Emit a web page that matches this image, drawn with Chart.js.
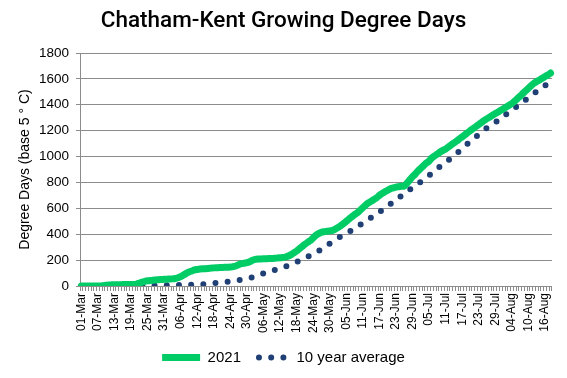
<!DOCTYPE html>
<html><head><meta charset="utf-8">
<script src="https://cdn.jsdelivr.net/npm/chart.js@4/dist/chart.umd.min.js"></script>
<style>html,body{margin:0;padding:0;background:#fff}#wrap{width:567px;height:378px}</style>
</head><body><div id="wrap"><canvas id="c" width="567" height="378"></canvas></div>
<script>
// Series values (cumulative GDD, daily from 01-Mar)
const gdd2021 = [
  0,0,0,0,0,0,0,0,3,6,8,9,10,10,10,11,11,12,12,12,
  15,22,30,36,40,42,45,47,49,50,52,53,54,55,58,64,72,85,98,108,
  116,124,128,131,133,134,136,138,140,141,142,143,144,145,147,150,155,165,172,176,
  180,188,198,205,208,209,210,211,212,213,214,216,218,220,224,232,242,256,270,288,
  305,322,338,352,372,392,405,415,420,423,426,430,440,452,466,482,500,518,535,552,
  566,585,605,625,643,655,668,682,700,715,728,740,752,758,764,767,770,773,795,820,
  845,865,890,910,930,950,965,990,1005,1020,1035,1048,1059,1075,1090,1105,1120,1137,1152,1168,
  1185,1202,1217,1232,1248,1264,1280,1293,1306,1319,1332,1345,1357,1370,1384,1397,1410,1428,1448,1467,
  1488,1508,1528,1548,1566,1580,1592,1605,1618,1630,1645
];
const gddAvg = [
  0,0,0,0,0,0,0,0,0,0,1,1,1,1,1,1,2,2,2,2,
  2,2,3,3,3,3,4,4,4,5,5,5,6,6,7,7,8,8,9,9,
  10,10,11,12,14,16,18,20,22,24,26,28,30,32,35,38,41,45,49,53,
  57,61,67,74,82,90,97,104,111,117,124,130,137,143,151,159,167,176,185,195,
  205,215,226,237,248,259,272,285,300,314,328,342,358,370,382,394,405,418,431,444,
  456,472,488,504,516,528,540,553,570,587,604,619,634,648,662,680,698,715,730,745,
  760,773,790,806,822,838,854,870,886,905,924,943,958,973,988,1004,1024,1044,1064,1082,
  1100,1117,1135,1153,1171,1188,1206,1222,1238,1250,1264,1278,1292,1310,1328,1345,1360,1375,1390,1405,
  1422,1439,1455,1471,1487,1503,1518,1533,1548,1563,1576
];
// Categories: daily dates starting 01-Mar (2021)
const monthNames = ['Jan','Feb','Mar','Apr','May','Jun','Jul','Aug','Sep','Oct','Nov','Dec'];
const startDate = [2021, 2, 1];
const categories = gdd2021.map((_, i) => {
  const d = new Date(startDate[0], startDate[1], startDate[2] + i);
  return String(d.getDate()).padStart(2,'0') + '-' + monthNames[d.getMonth()];
});
const yTicks = [0,200,400,600,800,1000,1200,1400,1600,1800];
const labelEvery = 6;

const grid = '#8c8c8c';
new Chart(document.getElementById('c'), {
  type: 'line',
  data: {
    labels: categories,
    datasets: [
      { label: '2021', data: gdd2021, borderColor: '#00cc66', backgroundColor: '#00cc66',
        borderWidth: 7, pointRadius: 0, tension: 0.4, cubicInterpolationMode: 'monotone',
        borderCapStyle: 'round' },
      { label: '10 year average', data: gddAvg, borderColor: '#1f3f75', backgroundColor: '#1f3f75',
        borderWidth: 6, pointRadius: 0, tension: 0.4, cubicInterpolationMode: 'monotone',
        borderDash: [0, 12.2], borderCapStyle: 'round' }
    ]
  },
  options: {
    responsive: false, animation: false, devicePixelRatio: 1,
    layout: { padding: { left: 14, right: 14, top: 6, bottom: 3 } },
    plugins: {
      title: { display: true, text: 'Chatham-Kent Growing Degree Days', color: '#000',
        font: { family: 'Roboto', size: 22.5, weight: '500' }, padding: { top: 2, bottom: 18 } },
      legend: { position: 'bottom', labels: { usePointStyle: true, pointStyleWidth: 38,
        color: '#000', font: { family: 'Liberation Sans', size: 15 }, padding: 10,
        generateLabels: chart => {
          const items = Chart.defaults.plugins.legend.labels.generateLabels(chart);
          return items.map((it, i) => {
            const ds = chart.data.datasets[i];
            it.pointStyle = 'line';
            it.lineWidth = ds.borderWidth;
            it.lineCap = ds.borderDash ? 'round' : 'butt';
            it.lineDash = ds.borderDash || [];
            it.lineDashOffset = ds.borderDash ? -8 : 0;
            return it;
          });
        } } },
      tooltip: { enabled: false }
    },
    scales: {
      x: {
        offset: true,
        grid: { display: true, drawOnChartArea: false, offset: true, tickLength: 5, color: grid },
        border: { color: grid },
        afterFit: s => { s.height = 54; },
        ticks: { autoSkip: false, maxRotation: 90, minRotation: 90, padding: 2, color: '#000',
          font: { family: 'Liberation Sans', size: 12 },
          callback: (v, i) => (i % labelEvery === 0 ? categories[i] : '') }
      },
      y: {
        min: 0, max: 1800,
        afterBuildTicks: s => { s.ticks = yTicks.map(v => ({ value: v })); },
        afterFit: s => { s.width = 66; },
        grid: { color: grid, tickLength: 4 },
        border: { color: grid },
        title: { display: true, text: 'Degree Days (base 5 ° C)', color: '#000',
          font: { family: 'Liberation Sans', size: 14 }, padding: { top: 3, bottom: 0 } },
        ticks: { color: '#000', padding: 7, font: { family: 'Liberation Sans', size: 13.5 },
          callback: v => String(v) }
      }
    }
  }
});
</script></body></html>
